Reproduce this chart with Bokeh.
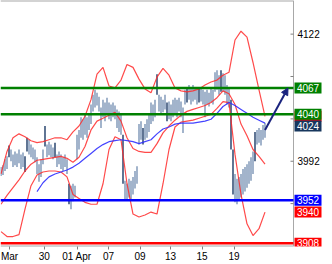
from bokeh.plotting import figure
from bokeh.models import Range1d, FixedTicker, Arrow, NormalHead, ColumnDataSource
from bokeh.core.properties import value
from bokeh.embed import file_html
from bokeh.resources import INLINE

nan = float("nan")

# hourly price bars (index = trading hour)
high = [3986, 3988, 3994, 3997, 4008, 4004, 3999, 4002, 4000, 4004, 3999, 4001, 3997, 4016, 4014, 4009,
        4006, 4004, 3996, 3989, 3994, 4004, 4028, 4009, 4012, 4009, 4006, 4011, 3999, 4002, 3999, 3996,
        3999, 3994, 3969, 3967, 3969, 3967, 4019, 4024, 4037, 4035, 4040, 4037, 4040, 4050, 4060, 4065,
        4062, 4058, 4047, 4055, 4052, 4057, 4052, 4050, 4052, 4049, 4045, 4043, 4040, 4019, 3972, 3969,
        3974, 3972, 3976, 3982, 3987, 4030, 4033, 4026, 4030, 4035, 4040, 4052, 4050, 4055, 4081, 4060,
        4058, 4055, 4060, 4052, 4053, 4050, 4055, 4057, 4055, 4057, 4053, 4047, 4065, 4068, 4070, 4067,
        4070, 4068, 4065, 4068, 4067, 4065, 4063, 4065, 4062, 4067, 4065, 4083, 4085, 4080, 4085, 4082,
        4080, 4070, 4067, 4055, 4004, 3979, 3974, 3976, 3979, 3984, 3986, 3989, 3992, 3996, 4002, 4022,
        4024, 4026, 4024, 4029, 4031]
low = [3977, 3978, 3982, 3984, 3996, 3992, 3986, 3988, 3986, 3990, 3984, 3986, 3981, 4002, 3999, 3996,
       3994, 3991, 3979, 3971, 3976, 3989, 4007, 3996, 3998, 3996, 3994, 3996, 3986, 3989, 3984, 3982,
       3986, 3979, 3948, 3943, 3951, 3955, 3994, 4004, 4016, 4014, 4019, 4016, 4024, 4030, 4043, 4047,
       4049, 4043, 4026, 4037, 4033, 4039, 4035, 4033, 4037, 4035, 4026, 4022, 4019, 3969, 3953, 3953,
       3955, 3953, 3958, 3964, 3969, 4009, 4014, 4009, 4014, 4016, 4022, 4030, 4033, 4037, 4060, 4043,
       4040, 4042, 4045, 4033, 4035, 4033, 4037, 4040, 4037, 4043, 4037, 4021, 4050, 4052, 4055, 4050,
       4053, 4055, 4050, 4052, 4053, 4050, 4037, 4050, 4048, 4052, 4050, 4063, 4065, 4060, 4063, 4063,
       4060, 4050, 4047, 4004, 3958, 3950, 3948, 3953, 3955, 3958, 3961, 3965, 3969, 3972, 3979, 3992,
       4009, 4011, 4008, 4014, 4016]
down_bars = [4, 12, 13, 22, 27, 34, 61, 71, 78, 83, 93, 99, 110, 115, 116, 127]
last_close = 4024

# Bollinger bands and moving average, read every 3 bars
band_idx = list(range(0, 133, 3))
upper = [3979, 4002, 4016, 4020, 4017, 4013, 4011, 4012, 4014, 4016, 4016, 4014, 4022, 4028, 4038, 4055,
         4081, 4088, 4069, 4067, 4075, 4091, 4088, 4076, 4066, 4062, 4078, 4087, 4080, 4067, 4064, 4063,
         4064, 4066, 4070, 4073, 4075, 4080, 4083, 4116, 4125, 4119, 4093, 4065, 4038]
middle = [3948, 3957, 3965, 3973, 3982, 3989, 3993, 3994, 3995, 3996, 3997, 3995, 3991, 3996, 4007, 4024,
          4033, 4036, 4039, 4042, 4033, 4016, 4005, 4002, 4001, 4001, 4010, 4021, 4028, 4034, 4039, 4043,
          4045, 4047, 4049, 4052, 4057, 4064, 4061, 4050, 4030, 4018, 4004, 3997, 3989]
lower = [3920, 3915, 3915, 3917, 3943, 3967, 3978, 3981, 3982, 3982, 3981, 3976, 3958, 3954, 3950, 3948,
         3948, 3969, 4004, 4017, 4014, 3969, 3938, 3935, 3937, 3940, 3938, 3969, 4004, 4027, 4032, 4033,
         4034, 4036, 4038, 4040, 4046, 4053, 4052, 3999, 3958, 3928, 3916, 3923, 3940]
ma = [nan] * 6 + [3961, 3970, 3976, 3979, 3981, 3983, 3986, 3990, 3995, 4000, 4005, 4009, 4012, 4013,
                  4014, 4013, 4012, 4010, 4012, 4014, 4020, 4025, 4027, 4030, 4031, 4031, 4031, 4032,
                  4033, 4035, 4041, 4048, 4052, 4049, 4045, 4041, 4037, 4034, 4031]

# horizontal levels
levels = [4067, 4040, 3952, 3908]
level_colors = ["#008000", "#008000", "#0000ff", "#ff0000"]
target_idx = 143.5
target = 4067

# axis ticks
x_tick_pos = [4.25, 21.65, 38, 53.75, 69.5, 84.75, 100.5, 116.5]
x_tick_lab = ["Mar", "30", "01 Apr", "07", "09", "13", "15", "19"]
y_ticks = [4122, 4078.67, 4035.33, 3992, 3948.67]
y_labelled = [4122, 3992]

FONT = "Liberation Sans"
LIGHT = "#7b94b6"
DARK = "#1c3a66"
NAVY = "#17365d"
RED = "#ff2a2a"
AXIS = "#a8a8a8"

x_start, x_end = -0.25, 165.75
y_start, y_end = 3904.8, 4156.4
frame_end = 146.25            # position of the price scale (right edge of the chart area)
box_x = frame_end + 7.25      # centre of the value boxes

p = figure(width=332, height=264, x_range=Range1d(x_start, x_end), y_range=Range1d(y_start, y_end),
           output_backend="svg", toolbar_location=None, y_axis_location=None,
           min_border_left=0, min_border_top=0, min_border_right=0, min_border_bottom=16)
p.grid.visible = False
p.outline_line_color = None
p.background_fill_color = "white"
p.border_fill_color = "white"

# chart frame lines (top border, bottom line, price scale line)
p.segment(x0=[x_start, x_start, frame_end], y0=[y_end, y_start, y_start],
          x1=[frame_end, frame_end, frame_end], y1=[y_end, y_start, y_end],
          line_color=AXIS, line_width=[2, 2, 1])

# bars
idx = list(range(len(high)))
colors = [DARK if i in down_bars else LIGHT for i in idx]
src = ColumnDataSource(dict(x=idx, hi=high, lo=low, c=colors))
p.segment(x0="x", y0="lo", x1="x", y1="hi", line_color="c", line_width=1.4, source=src)

# bands
for series in (upper, middle, lower):
    p.line(band_idx, series, line_color=RED, line_width=1.2, line_alpha=0.85)
p.line(band_idx, ma, line_color="#3030ff", line_width=1.2, line_alpha=0.9)

# levels
p.segment(x0=[x_start] * len(levels), x1=[frame_end] * len(levels), y0=levels, y1=levels,
          line_color=level_colors, line_width=2.5)

# arrow
p.add_layout(Arrow(end=NormalHead(size=7, fill_color="#1a237e", line_color="#1a237e"),
                   x_start=idx[-1], y_start=last_close, x_end=target_idx, y_end=target,
                   line_color="#1a237e", line_width=2))

# price scale: ticks and labels
p.segment(x0=[frame_end - 1.5] * len(y_ticks), x1=[frame_end] * len(y_ticks), y0=y_ticks, y1=y_ticks,
          line_color="#808080", line_width=1)
p.text(x=[frame_end] * len(y_labelled), y=y_labelled, text=["%d" % t for t in y_labelled],
       x_offset=4, text_baseline="middle", text_align="left", text_font=value(FONT),
       text_font_size="10px", text_color="#000000")

# value boxes on the price scale
p.rect(x=[box_x], y=[upper[-1]], width=27, height=11, width_units="screen", height_units="screen",
       fill_color="#ff0000", line_color=None)
boxes = [(levels[0], 0, "#008000"), (levels[1], 0, "#008000"), (last_close, 4, NAVY),
         (levels[2], 0, "#0000ff"), (lower[-1], 0, "#ff0000"), (levels[3], 0, "#ff0000")]
for val, shift, col in boxes:
    p.rect(x=[box_x], y=[val + shift], width=27, height=11, width_units="screen",
           height_units="screen", fill_color=col, line_color=None)
    p.text(x=[box_x], y=[val + shift], text=["%d" % round(val)], text_align="center",
           text_baseline="middle", text_font=value(FONT), text_font_size="10px", text_color="white")

# time axis
xa = p.xaxis[0]
xa.ticker = FixedTicker(ticks=x_tick_pos)
xa.major_label_overrides = {pos: lab for pos, lab in zip(x_tick_pos, x_tick_lab)}
xa.minor_tick_line_color = None
xa.major_tick_in = 0
xa.major_tick_out = 3
xa.major_label_standoff = 1
xa.axis_line_color = None
xa.major_tick_line_color = "#808080"
xa.major_label_text_font = FONT
xa.major_label_text_font_size = "10px"
xa.major_label_text_color = "#000000"

open("out.html", "w").write(file_html(p, INLINE))
